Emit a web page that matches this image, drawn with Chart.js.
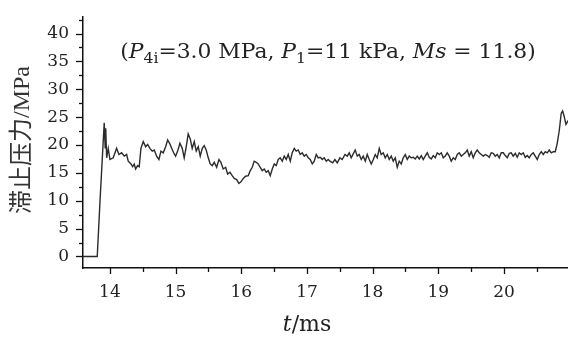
<!DOCTYPE html>
<html>
<head>
<meta charset="utf-8">
<script src="https://cdn.jsdelivr.net/npm/chart.js@4.4.0/dist/chart.umd.min.js"></script>
<style>
  html, body { margin: 0; padding: 0; background: #fff; }
  #wrap { width: 568px; height: 337px; }
</style>
</head>
<body>
<div id="wrap"><canvas id="stagChart" width="568" height="337"></canvas></div>
<script>
// time (ms) and stagnation pressure (MPa)
const timeMs = [
  13.58, 13.807, 13.848, 13.913, 13.928, 13.936, 13.950, 13.974, 14.000, 14.050,
  14.102, 14.137, 14.178, 14.218, 14.254, 14.279, 14.320, 14.346, 14.370, 14.391,
  14.422, 14.446, 14.472, 14.507, 14.544, 14.574, 14.609, 14.644, 14.675, 14.711,
  14.746, 14.777, 14.812, 14.848, 14.879, 14.909, 14.940, 14.970, 15.000, 15.031,
  15.066, 15.101, 15.131, 15.162, 15.192, 15.223, 15.253, 15.284, 15.314, 15.345,
  15.375, 15.406, 15.436, 15.466, 15.497, 15.527, 15.558, 15.588, 15.625, 15.660,
  15.690, 15.725, 15.762, 15.792, 15.827, 15.862, 15.893, 15.929, 15.964, 15.995,
  16.030, 16.066, 16.106, 16.137, 16.167, 16.197, 16.228, 16.258, 16.289, 16.319,
  16.350, 16.380, 16.411, 16.441, 16.472, 16.502, 16.532, 16.563, 16.593, 16.624,
  16.654, 16.685, 16.715, 16.746, 16.776, 16.807, 16.837, 16.867, 16.898, 16.928,
  16.959, 16.989, 17.020, 17.050, 17.081, 17.111, 17.142, 17.172, 17.202, 17.233,
  17.263, 17.294, 17.324, 17.350, 17.391, 17.426, 17.461, 17.502, 17.537, 17.579,
  17.614, 17.644, 17.674, 17.705, 17.735, 17.766, 17.796, 17.827, 17.857, 17.888,
  17.918, 17.949, 17.979, 18.010, 18.040, 18.070, 18.101, 18.131, 18.162, 18.192,
  18.223, 18.253, 18.284, 18.314, 18.345, 18.375, 18.405, 18.436, 18.466, 18.497,
  18.527, 18.558, 18.588, 18.619, 18.649, 18.680, 18.710, 18.741, 18.771, 18.801,
  18.832, 18.862, 18.893, 18.923, 18.954, 18.984, 19.015, 19.045, 19.076, 19.106,
  19.136, 19.167, 19.197, 19.228, 19.258, 19.289, 19.319, 19.350, 19.380, 19.411,
  19.441, 19.471, 19.502, 19.532, 19.563, 19.593, 19.624, 19.654, 19.685, 19.715,
  19.746, 19.776, 19.806, 19.837, 19.867, 19.898, 19.928, 19.959, 19.989, 20.020,
  20.050, 20.081, 20.111, 20.141, 20.172, 20.202, 20.233, 20.263, 20.294, 20.324,
  20.355, 20.385, 20.416, 20.446, 20.476, 20.507, 20.537, 20.568, 20.598, 20.629,
  20.659, 20.690, 20.720, 20.751, 20.781, 20.811, 20.842, 20.872, 20.893, 20.913,
  20.944, 20.974, 20.99
];
const pressureMPa = [
  0, 0, 9.7, 24.0, 19.5, 23.0, 17.7, 19.4, 17.4, 17.7,
  19.4, 18.3, 18.6, 18.0, 18.3, 17.1, 16.6, 16.1, 16.6, 15.7,
  16.3, 16.1, 19.4, 20.6, 19.7, 20.1, 19.4, 18.9, 19.1, 18.0,
  17.4, 18.9, 18.6, 19.7, 20.9, 20.3, 19.4, 18.6, 18.0, 18.9,
  20.3, 19.4, 17.7, 19.7, 22.0, 21.1, 19.4, 20.6, 18.9, 19.7,
  18.0, 19.4, 19.9, 19.1, 17.7, 16.6, 16.3, 16.9, 16.0, 17.4,
  16.9, 15.7, 16.0, 14.8, 15.1, 14.5, 14.0, 13.8, 13.1, 13.4,
  14.0, 14.4, 14.5, 15.4, 16.0, 17.1, 16.9, 16.6, 16.0, 15.4,
  15.7, 15.1, 15.4, 14.5, 15.7, 16.6, 16.3, 17.4, 17.7, 17.1,
  18.0, 17.4, 18.3, 17.1, 18.6, 19.4, 18.9, 19.1, 18.3, 18.6,
  18.0, 18.3, 17.7, 17.4, 16.6, 17.1, 18.3, 17.7, 17.8, 17.4,
  17.7, 17.1, 17.4, 17.1, 16.8, 17.4, 16.8, 17.7, 17.4, 18.3,
  18.0, 18.6, 17.7, 18.4, 19.1, 18.0, 18.3, 17.4, 18.0, 17.1,
  18.3, 17.4, 16.6, 17.4, 18.3, 17.7, 19.4, 18.3, 18.6, 17.7,
  18.3, 17.4, 18.0, 17.1, 17.7, 16.0, 17.1, 16.6, 17.7, 18.3,
  17.4, 18.0, 17.7, 17.8, 17.5, 18.0, 17.5, 18.1, 17.4, 18.0,
  18.6, 17.8, 17.5, 18.1, 17.7, 18.6, 18.3, 18.6, 17.7, 18.0,
  18.6, 18.0, 17.1, 17.7, 17.4, 18.3, 18.6, 18.0, 18.3, 18.6,
  19.1, 18.0, 18.8, 17.7, 18.6, 19.1, 18.6, 18.3, 18.0, 18.3,
  18.1, 17.8, 18.6, 18.5, 18.0, 18.3, 17.7, 18.6, 18.6, 18.1,
  17.7, 18.5, 18.6, 18.0, 18.5, 17.8, 18.6, 18.3, 18.6, 17.8,
  18.1, 17.7, 18.3, 18.6, 18.0, 17.4, 18.3, 18.8, 18.3, 18.8,
  18.6, 19.1, 18.6, 18.8, 18.8, 20.3, 22.6, 25.7, 26.1, 25.3,
  23.7, 24.3, 24.5
];

// axis ranges and tick positions (labels only on whole ms / multiples of 5)
const xMin = 13.59, xMax = 20.975;
const yMin = -2.07, yMax = 42.93;
const xTicks = [14, 14.5, 15, 15.5, 16, 16.5, 17, 17.5, 18, 18.5, 19, 19.5, 20, 20.5];
const yTicks = [0, 2.5, 5, 7.5, 10, 12.5, 15, 17.5, 20, 22.5, 25, 27.5, 30, 32.5, 35, 37.5, 40, 42.5];
const yTitle = '滞止压力/MPa';
const xTitle = [{ t: 't', it: true }, { t: '/ms' }];
// (P4i=3.0 MPa, P1=11 kPa, Ms = 11.8)
const note = [
  { t: '(' }, { t: 'P', it: true }, { t: '4i', sub: true }, { t: '=3.0 MPa, ' },
  { t: 'P', it: true }, { t: '1', sub: true }, { t: '=11 kPa, ' },
  { t: 'Ms', it: true }, { t: ' = 11.8)' }
];

const SERIF = '"DejaVu Serif", "Liberation Serif", serif';
const isInt = v => Math.abs(v - Math.round(v)) < 1e-6;
const isFive = v => Math.abs(v / 5 - Math.round(v / 5)) < 1e-6;

function drawParts(ctx, parts, size, cx, cy, stretch) {
  const fontOf = p => (p.it ? 'italic ' : '') + (p.sub ? Math.round(size * 0.7) : size) + 'px ' + SERIF;
  let w = 0;
  parts.forEach(p => { ctx.font = fontOf(p); w += ctx.measureText(p.t).width; });
  ctx.save();
  ctx.translate(cx, cy);
  ctx.scale(stretch, 1);
  let x = -w / 2;
  ctx.textBaseline = 'alphabetic';
  ctx.textAlign = 'left';
  parts.forEach(p => {
    ctx.font = fontOf(p);
    ctx.fillText(p.t, x, p.sub ? size * 0.22 : 0);
    x += ctx.measureText(p.t).width;
  });
  ctx.restore();
}

const framePlugin = {
  id: 'frame',
  afterDraw(chart) {
    const { ctx, chartArea: a, scales: { x, y } } = chart;
    ctx.save();
    ctx.strokeStyle = '#111';
    ctx.lineWidth = 1.3;
    x.ticks.forEach(t => {
      const px = Math.round(x.getPixelForValue(t.value)) + 0.5;
      const len = isInt(t.value) ? 6 : 4;
      ctx.beginPath(); ctx.moveTo(px, a.bottom); ctx.lineTo(px, a.bottom + len); ctx.stroke();
    });
    y.ticks.forEach(t => {
      const py = Math.round(y.getPixelForValue(t.value)) + 0.5;
      const len = isFive(t.value) ? 7 : 4;
      ctx.beginPath(); ctx.moveTo(a.left, py); ctx.lineTo(a.left - len, py); ctx.stroke();
    });

    ctx.fillStyle = '#222';
    drawParts(ctx, xTitle, 22, 307, 331, 1);
    drawParts(ctx, note, 21, 328, 58, 1.04);

    ctx.save();
    ctx.translate(29, 140);
    ctx.rotate(-Math.PI / 2);
    ctx.font = '24px "Liberation Serif", "Noto Sans CJK SC", serif';
    ctx.fillStyle = '#333';
    ctx.textAlign = 'center';
    ctx.textBaseline = 'alphabetic';
    ctx.fillText(yTitle, 0, 0);
    ctx.restore();
    ctx.restore();
  }
};

new Chart(document.getElementById('stagChart'), {
  type: 'line',
  data: {
    datasets: [{
      data: timeMs.map((t, i) => ({ x: t, y: pressureMPa[i] })),
      borderColor: '#2b2b2b',
      borderWidth: 1.4,
      pointRadius: 0,
      tension: 0,
      fill: false
    }]
  },
  options: {
    responsive: false,
    animation: false,
    devicePixelRatio: 1,
    layout: { padding: { top: 7, right: 0, left: 0, bottom: 0 } },
    plugins: { legend: { display: false }, tooltip: { enabled: false } },
    scales: {
      x: {
        type: 'linear',
        min: xMin, max: xMax,
        grid: { drawOnChartArea: false, tickLength: 6, tickColor: 'rgba(0,0,0,0)' },
        border: { color: '#111', width: 1.5 },
        ticks: {
          autoSkip: false, maxRotation: 0,
          color: '#222', font: { family: SERIF, size: 17 }, padding: 8,
          callback: v => isInt(v) ? String(Math.round(v)) : ''
        },
        afterBuildTicks: s => { s.ticks = xTicks.map(v => ({ value: v })); },
        afterFit: s => { s.height = 69; }
      },
      y: {
        type: 'linear',
        min: yMin, max: yMax,
        grid: { drawOnChartArea: false, tickLength: 7, tickColor: 'rgba(0,0,0,0)' },
        border: { color: '#111', width: 1.5 },
        ticks: {
          autoSkip: false,
          color: '#222', font: { family: SERIF, size: 17 }, padding: 7,
          callback: v => isFive(v) ? String(Math.round(v)) : ''
        },
        afterBuildTicks: s => { s.ticks = yTicks.map(v => ({ value: v })); },
        afterFit: s => { s.width = 83; }
      }
    }
  },
  plugins: [framePlugin]
});
</script>
</body>
</html>
